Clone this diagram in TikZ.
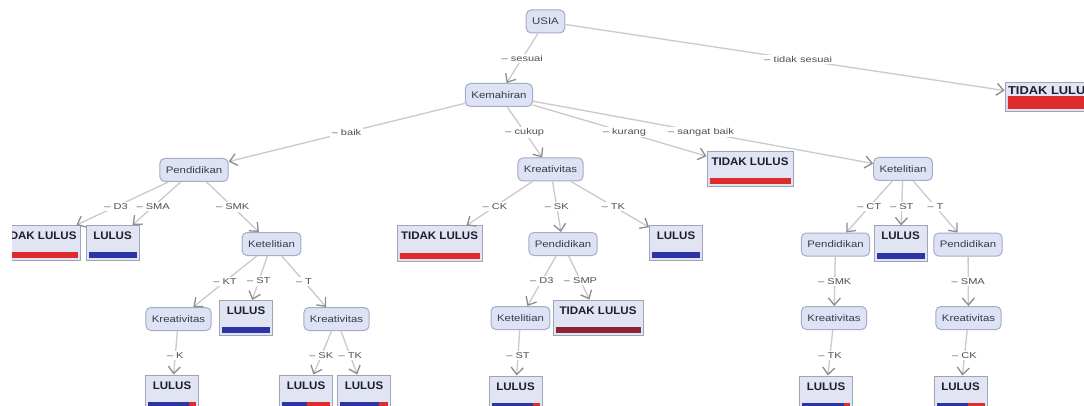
\documentclass[tikz,border=0pt]{standalone}
\usepackage{fontspec}
\usetikzlibrary{arrows.meta,calc}
\newfontfamily\nodefont[FakeStretch=1.2]{Liberation Sans}
\newfontfamily\lblfont[FakeStretch=1.3]{Liberation Sans}
\newfontfamily\leaffont[FakeStretch=1.05]{Liberation Sans}
\newfontfamily\leaftopfont[FakeStretch=1.12]{Liberation Sans}
\definecolor{nodefill}{HTML}{DDE3F4}
\definecolor{nodeborder}{HTML}{A4ACC8}
\definecolor{leaffill}{HTML}{E0E4F3}
\definecolor{leafborder}{HTML}{A0A2B6}
\definecolor{edgecol}{HTML}{CACACA}
\definecolor{arrowcol}{HTML}{8C8C8C}
\definecolor{lbltext}{HTML}{505050}
\definecolor{nodetext}{HTML}{3A3A4A}
\definecolor{leaftext}{HTML}{1E1E2E}
\definecolor{barblue}{HTML}{2C34A8}
\definecolor{barred}{HTML}{DC2C2C}
\definecolor{bardark}{HTML}{8A2434}
\tikzset{
  inner/.style={draw=nodeborder, fill=nodefill, rounded corners=5pt, line width=1pt,
    font=\nodefont\fontsize{9.5}{11}\selectfont, text=nodetext,
    minimum height=23pt, inner xsep=6pt},
  leaf/.style={draw=leafborder, fill=leaffill, line width=1pt,
    font=\leaffont\bfseries\fontsize{11}{13}\selectfont, text=leaftext,
    text height=11pt, text depth=18pt, inner ysep=3pt, inner xsep=4pt,
    minimum width=53pt},
  leaftop/.style={leaf, font=\leaftopfont\bfseries\fontsize{11.5}{13}\selectfont,
    text height=10pt, text depth=15pt, inner ysep=2pt, inner xsep=3pt, minimum width=86pt},
  lbl/.style={fill=white, font=\lblfont\fontsize{8.5}{10}\selectfont, text=lbltext, inner sep=1.5pt},
  edge/.style={draw=edgecol, line width=1.3pt,
    -{Straight Barb[length=7pt,width=12pt,line width=1.3pt,color=arrowcol]}}
}
\newcommand{\leafbar}[4]{% node, color1, fraction, bar height
  \path ([xshift=3pt,yshift=3pt]#1.south west) coordinate (#1bl)
        ([xshift=-3pt,yshift=#4]#1.south east) coordinate (#1tr);
  \fill[barred] (#1bl) rectangle (#1tr);
  \fill[#2] (#1bl) rectangle ($(#1bl|-#1tr)!#3!(#1tr)$);
}
\newcommand{\conn}[3]{%
  \draw[edge] (#1) -- (#2);
  \node[lbl] (l#1#2) at ($(#1)!0.5!(#2)$) {#3};
}
\begin{document}
\begin{tikzpicture}[x=1pt,y=-1pt]
\useasboundingbox[fill=white] (0,0) rectangle (1084,406);
% internal nodes
\node[inner] (usia) at (545.5,21.5) {USIA};
\node[inner] (kem) at (499,95) {Kemahiran};
\node[inner] (pend1) at (194,170) {Pendidikan};
\node[inner] (ket1) at (271.5,244) {Ketelitian};
\node[inner] (kre1) at (178.5,319) {Kreativitas};
\node[inner] (kre2) at (336.5,319) {Kreativitas};
\node[inner] (kre3) at (550.5,169.5) {Kreativitas};
\node[inner] (pend2) at (563,244) {Pendidikan};
\node[inner] (ket2) at (520.5,318) {Ketelitian};
\node[inner] (ket3) at (903,169) {Ketelitian};
\node[inner] (pend3) at (835.5,244.5) {Pendidikan};
\node[inner] (pend4) at (968,244.5) {Pendidikan};
\node[inner] (kre4) at (834,318) {Kreativitas};
\node[inner] (kre5) at (968.5,318) {Kreativitas};
% leaves
\node[leaftop] (tl0) at (1051,97.5) {TIDAK LULUS};
\leafbar{tl0}{barred}{0}{16pt}
\begin{scope}
  \clip (12,200) rectangle (300,280);
  \node[leaf] (tl1) at (38,243) {TIDAK LULUS};
  \leafbar{tl1}{barred}{0}{9pt}
\end{scope}
\node[leaf] (lulus1) at (112.5,243) {LULUS};
\leafbar{lulus1}{barblue}{1}{9pt}
\node[leaf] (lulus2) at (246,318) {LULUS};
\leafbar{lulus2}{barblue}{1}{9pt}
\node[leaf] (lulus3) at (172,392.5) {LULUS};
\leafbar{lulus3}{barblue}{0.85}{9pt}
\node[leaf] (lulus4) at (306,392.5) {LULUS};
\leafbar{lulus4}{barblue}{0.52}{9pt}
\node[leaf] (lulus5) at (364,392.5) {LULUS};
\leafbar{lulus5}{barblue}{0.82}{9pt}
\node[leaf, minimum width=85pt] (tl2) at (439.5,243.5) {TIDAK LULUS};
\leafbar{tl2}{barred}{0}{9pt}
\node[leaf] (lulus6) at (676,243) {LULUS};
\leafbar{lulus6}{barblue}{1}{9pt}
\node[leaf, minimum width=90pt] (tl3) at (598,317.5) {TIDAK LULUS};
\leafbar{tl3}{bardark}{1}{9pt}
\node[leaf] (lulus7) at (515.5,393.5) {LULUS};
\leafbar{lulus7}{barblue}{0.87}{9pt}
\node[leaf, minimum width=86pt] (tl4) at (750,169) {TIDAK LULUS};
\leafbar{tl4}{barred}{0}{9pt}
\node[leaf] (lulus8) at (900.5,243.5) {LULUS};
\leafbar{lulus8}{barblue}{1}{9pt}
\node[leaf] (lulus9) at (826,393.5) {LULUS};
\leafbar{lulus9}{barblue}{0.88}{9pt}
\node[leaf] (lulus10) at (960.5,393.5) {LULUS};
\leafbar{lulus10}{barblue}{0.65}{9pt}
% connectors
\conn{usia}{kem}{– sesuai}
\conn{usia}{tl0}{– tidak sesuai}
\conn{kem}{pend1}{– baik}
\conn{kem}{kre3}{– cukup}
\conn{kem}{tl4}{– kurang}
\conn{kem}{ket3}{– sangat baik}
\conn{pend1}{tl1}{– D3}
\conn{pend1}{lulus1}{– SMA}
\conn{pend1}{ket1}{– SMK}
\conn{ket1}{kre1}{– KT}
\conn{ket1}{lulus2}{– ST}
\conn{ket1}{kre2}{– T}
\conn{kre1}{lulus3}{– K}
\conn{kre2}{lulus4}{– SK}
\conn{kre2}{lulus5}{– TK}
\conn{kre3}{tl2}{– CK}
\conn{kre3}{pend2}{– SK}
\conn{kre3}{lulus6}{– TK}
\conn{pend2}{ket2}{– D3}
\conn{pend2}{tl3}{– SMP}
\conn{ket2}{lulus7}{– ST}
\conn{ket3}{pend3}{– CT}
\conn{ket3}{lulus8}{– ST}
\conn{ket3}{pend4}{– T}
\conn{pend3}{kre4}{– SMK}
\conn{pend4}{kre5}{– SMA}
\conn{kre4}{lulus9}{– TK}
\conn{kre5}{lulus10}{– CK}
\end{tikzpicture}
\end{document}
